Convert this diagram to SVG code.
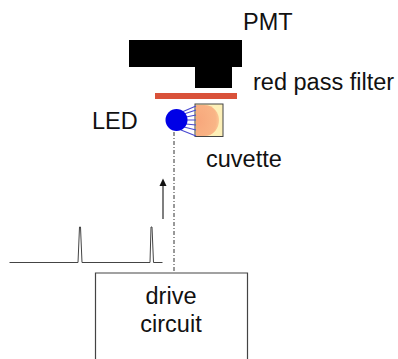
<svg xmlns="http://www.w3.org/2000/svg" width="398" height="359" viewBox="0 0 398 359">
<defs>
<style>
text{font-family:"Liberation Sans",Arial,sans-serif;font-size:23.500px;fill:#111}
.ray{stroke:#4a4ad0;stroke-width:1.200;fill:none}
.wire{stroke:#444;fill:none}
</style>
<radialGradient id="glow" cx="0.1" cy="0.5" r="0.95"><stop offset="0" stop-color="#f7a77c"/><stop offset="0.8" stop-color="#f9b586"/><stop offset="1" stop-color="#fbcf9c"/></radialGradient>
</defs>
<rect width="398" height="359" fill="#fff"/>
<g id="pmt">
<rect x="129" y="40" width="113" height="27" fill="#000"/>
<rect x="195" y="67" width="37" height="21" fill="#000"/>
<text x="243" y="30">PMT</text>
</g>
<g id="filter">
<rect x="155" y="93" width="82" height="6" fill="#d9523a"/>
<text x="253" y="90">red pass filter</text>
</g>
<g id="cuvette">
<rect x="195" y="104" width="28" height="32.500" fill="#fdf0b8" stroke="#444" stroke-width="1"/>
<path d="M196,105H204C214,105 219,113 219,120C219,128 214,136 204,136H196Z" fill="url(#glow)"/>
<text x="206" y="167">cuvette</text>
</g>
<g id="connectors">
<path class="ray" d="M182,112L196,106M184,114L196,110M186,117L196,115M187,120L196,120M186,124L196,125M184,127L196,130M181,130L196,136"/>
<path d="M174,132V273" stroke="#333" stroke-width="1" stroke-dasharray="4 2 1 2" fill="none"/>
<path d="M163,219V186" stroke="#555" stroke-width="1.500" fill="none"/>
<path d="M159.500,186L163,178.500L166.500,186Z" fill="#111"/>
<path class="wire" stroke-width="1" d="M9.500,262.500H78L79.500,227H80.500L82,262.500H150L151,227H152L153.500,262.500H162.500"/>
</g>
<g id="led">
<circle cx="176.500" cy="120" r="11" fill="#0000e6"/>
<text x="92" y="129">LED</text>
</g>
<g id="drive">
<path d="M95.500,359V273H247.500V359" fill="#fff" stroke="#444" stroke-width="1.200"/>
<text x="171" y="304" text-anchor="middle">drive</text>
<text x="171" y="332" text-anchor="middle">circuit</text>
</g>
</svg>
